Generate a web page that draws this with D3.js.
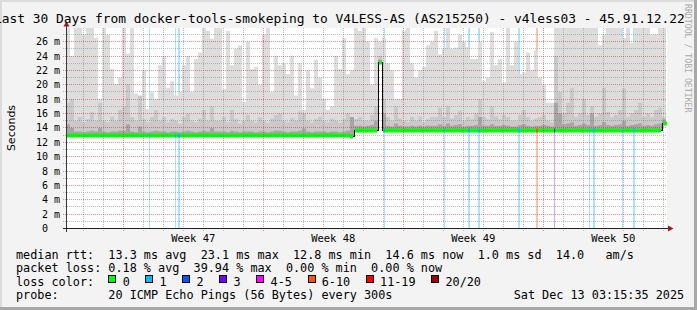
<!DOCTYPE html>
<html><head><meta charset="utf-8">
<script src="https://cdn.jsdelivr.net/npm/d3@7"></script>
<style>
body{margin:0;background:#f3f3f3;overflow:hidden}
svg{display:block}
text{font-family:"DejaVu Sans Mono",monospace;fill:#000}
</style>
</head><body>
<svg id="c" width="697" height="310"></svg>
<script>
// ---------- DATA ----------
const startTime = new Date(Date.UTC(2025,10,13,3,15,35));
const endTime   = new Date(Date.UTC(2025,11,13,3,15,35));
const binHours = 4.8; // each value covers 4.8 h (150 bins over 30 days)

// top of the outer smoke (max ping), ms (values above the axis top are clipped)
const smokeMax = [
30,24,30,30,27,30,30,26.5,18,30, 27,22.2,20.1,21,30,24.3,30,18.8,18.2,22,
16.6,19,18,22.7,24,19.6,20.5,18.5,19,22.7, 24,19,23.6,24.5,30,27.5,26.4,30,30,19.4,
27.5,22.7,25,25.5,17.6,26,22.2,22.5,20,27, 28,19,24,22.7,23,21.5,24,18.5,23,16.5,
22,19.5,23.5,21,18,16.5,17,24,22.2,26.5, 21.5,22,30,27.5,30,26,20,26.5,26,26.5,
23,22,18,18,27.5,28,23,21,22,22.5, 25.5,26,27.5,24.2,25,30,25,25.2,27,26,
25.3,23.6,23.6,26,20.5,21,27.3,22.7,23.6,20.3, 30,22.7,26,21.5,21.7,24.5,22,24.8,21,20,
17.5,17.5,30,30,30,30,30,30,30,30, 30,30,30,25.5,27,30,30,30,30,26.5,
30,25.8,30,30,30,30,27,27,30,30];

// top of the middle smoke band, ms
const smokeMid = [
17.5,18,15,15.5,14.8,15.2,16.2,15,17.5,15, 14.8,15.6,15,16.5,17,20,15.5,15,18.5,15.2,
14.8,15.5,16.5,15,15.5,14.8,15.2,15,14.6,15.5, 16,15,14.8,15.3,16.5,15,17,15,15,15.5,
14.8,16.5,15.2,14.6,15,15.8,15,14.8,15.5,15, 14.7,15.3,15.8,16,15,14.8,15.4,15,16.3,16,
15,14.8,15.2,15.6,15,14.8,15.3,15,14.7,15.2, 16,14.6,15.2,15.5,15,15,15.8,17,24,18,
15.5,15,17,15.3,15,14.8,15.5,15,15.6,14.8, 15.2,15.5,15.5,16.8,15.5,17,15.3,15.8,16.4,15,
15.5,15.2,16,18,15.5,15.2,17,15.6,15.2,15.8, 15.5,15,15,15.8,16.5,15.5,15,15.3,15.5,15.8,
15,14.8,24,19,16,17.5,19.5,15.5,16,18, 15.8,17,15.5,16,19.6,16.2,15.5,15.8,16.5,19.5,
15.5,16,16.5,17.5,15.5,16,15.5,16.5,16.8,15.5];

// top of the dark inner smoke band, ms
const smokeDark = [
14.5,14,13.5,13.5,13.4,13.5,13.6,13.5,14,13.5, 13.4,13.5,13.5,13.6,13.6,14.5,13.5,13.4,14.2,13.5,
13.4,13.5,13.6,13.5,13.5,13.4,13.5,13.5,13.4,13.5, 13.6,13.5,13.4,13.5,13.6,13.5,14,13.5,13.5,13.5,
13.4,13.6,13.5,13.4,13.5,13.5,13.5,13.4,13.5,13.5, 13.4,13.5,13.6,13.6,13.5,13.4,13.5,13.5,13.6,13.9,
13.5,13.4,13.5,13.5,13.5,13.4,13.5,13.5,13.4,13.5, 13.6,15.5,14.3,14.3,14.2,14.3,14.4,15,23.5,16,
14.3,14.2,14.6,14.3,14.2,14.2,14.3,14.2,14.3,14.2, 14.3,14.3,14.3,14.5,14.3,14.6,14.3,14.4,14.5,14.2,
14.3,14.3,14.4,15.5,14.3,14.3,14.5,14.3,14.3,14.4, 14.3,14.2,14.2,14.4,14.5,14.3,14.2,14.3,14.3,14.4,
14.3,14.2,17.5,16,14.5,14.6,14.8,14.3,14.4,14.6, 14.4,16,14.3,14.4,14.8,14.4,14.3,14.4,14.5,15,
14.3,14.4,14.5,14.6,14.3,14.4,14.3,14.5,14.6,15.2];

// median rtt, ms
const medianRtt = [
12.9,12.9,12.9,12.9,12.9,12.9,12.9,12.9,12.9,12.9, 12.9,12.9,12.9,12.9,12.9,12.9,12.9,12.9,12.9,12.9,
12.9,12.9,12.9,12.9,12.9,12.9,12.9,12.9,12.9,12.9, 12.9,12.9,12.9,12.9,12.9,12.9,12.9,12.9,12.9,12.9,
12.9,12.9,12.9,12.9,12.9,12.9,12.9,12.9,12.9,12.9, 12.9,12.9,12.9,12.9,12.9,12.9,12.9,12.9,12.9,12.9,
12.9,12.9,12.9,12.9,12.9,12.9,12.9,12.9,12.9,12.9, 12.9,12.8,13.7,13.7,13.7,13.7,13.7,13.7,23.1,13.7,
13.7,13.7,13.7,13.7,13.7,13.7,13.7,13.7,13.7,13.7, 13.7,13.7,13.7,13.7,13.7,13.7,13.7,13.7,13.7,13.7,
13.7,13.7,13.7,13.7,13.7,13.7,13.7,13.7,13.7,13.7, 13.7,13.7,13.7,13.7,13.7,13.7,13.7,13.7,13.7,13.7,
13.7,13.7,13.7,13.7,13.7,13.7,13.7,13.7,13.7,13.7, 13.7,13.7,13.7,13.7,13.7,13.7,13.7,13.7,13.7,13.7,
13.7,13.7,13.7,13.7,13.7,13.7,13.7,13.7,13.7,14.6];

// loss events: time, number of lost pings (of 20), duration in rrd steps (72 min)
const lossTimes = ["2025-11-17T08:03Z","2025-11-18T15:15Z","2025-11-18T18:51Z","2025-11-29T02:03Z",
  "2025-12-02T02:03Z","2025-12-03T06:51Z","2025-12-03T18:51Z","2025-12-05T18:51Z","2025-12-06T15:51Z",
  "2025-12-07T14:03Z","2025-12-09T08:03Z","2025-12-09T12:51Z","2025-12-10T23:39Z","2025-12-11T12:51Z"];
const lossCounts = [1,1,1,1,1,1,1,1,8,3,1,1,1,1];
const lossSteps  = [1,1,2,1,1,2,2,2,2,1,1,2,1,2];

const lossLabels = ["0","1","2","3","4-5","6-10","11-19","20/20"];
const lossColors = ["#00ff00","#00bbff","#0055ff","#7700ff","#ff00ff","#ff5500","#ff0000","#a00000"];
const lossMaxOf  = [0,1,2,3,5,10,19,20];

const yTicks = [0,2,4,6,8,10,12,14,16,18,20,22,24,26];
const weekStarts = ["2025-11-16","2025-11-23","2025-11-30","2025-12-07"];
const weekLabels = ["Week 47","Week 48","Week 49","Week 50"];

const titleText = "Last 30 Days from docker-tools-smokeping to V4LESS-AS (AS215250) - v4less03 - 45.91.12.22";
const legendRtt  = "median rtt:  13.3 ms avg  23.1 ms max  12.8 ms min  14.6 ms now  1.0 ms sd  14.0   am/s";
const legendLoss = "packet loss: 0.18 % avg  39.94 % max  0.00 % min  0.00 % now";
const legendProbe = "probe:       20 ICMP Echo Pings (56 Bytes) every 300s";
const legendDate = "Sat Dec 13 03:15:35 2025";

// ---------- DRAW ----------
const svg = d3.select("#c");
const X0 = 66, X1 = 666, YT = 28, YB = 228.5;
const x = d3.scaleUtc().domain([startTime, endTime]).range([X0, X1]);
const y = d3.scaleLinear().domain([0, 27.9]).range([YB, YT]);
const binTime = i => new Date(startTime.getTime() + i * binHours * 3600e3);
const lossIdx = n => lossMaxOf.findIndex(m => n <= m);

// background and frame
svg.append("rect").attr("width",697).attr("height",310).attr("fill","#f3f3f3");
svg.append("rect").attr("width",697).attr("height",2).attr("fill","#dcdcdc");
svg.append("rect").attr("width",2).attr("height",310).attr("fill","#dcdcdc");
svg.append("rect").attr("x",694).attr("width",3).attr("height",310).attr("fill","#a8a8a8");
svg.append("rect").attr("y",307).attr("width",697).attr("height",3).attr("fill","#a8a8a8");

// canvas
svg.append("rect").attr("x",X0).attr("y",YT).attr("width",X1-X0+1).attr("height",YB-YT).attr("fill","#fff");

svg.append("clipPath").attr("id","plot").append("rect")
  .attr("x",X0+1).attr("y",YT).attr("width",X1-X0).attr("height",YB-YT);
const plot = svg.append("g").attr("clip-path","url(#plot)");

// loss background lines
lossTimes.forEach((t,i) => {
  const li = lossIdx(lossCounts[i]);
  plot.append("rect")
    .attr("x", Math.floor(x(new Date(t)))).attr("y", YT)
    .attr("width", lossSteps[i]).attr("height", YB-YT)
    .attr("fill", lossColors[li]).attr("opacity", 0.35);
});

// smoke
const pts = medianRtt.map((m,i) => ({t: binTime(i), m, mx: smokeMax[i], md: smokeMid[i], dk: smokeDark[i]}));
pts.push(Object.assign({}, pts[pts.length-1], {t: endTime}));
const area = key => d3.area().curve(d3.curveStepAfter)
  .x(d => x(d.t)).y0(d => y(d.m)).y1(d => y(d[key]));
plot.append("path").datum(pts).attr("d", area("mx")).attr("fill","#dddddd");
plot.append("path").datum(pts).attr("d", area("md")).attr("fill","#c9c9c9");
plot.append("path").datum(pts).attr("d", area("dk")).attr("fill","#a6a6a6");

// grid
const grid = svg.append("g").attr("shape-rendering","crispEdges").attr("stroke-dasharray","1,1");
d3.utcDay.range(d3.utcDay.ceil(startTime), endTime).forEach(d => {
  const major = d.getUTCDay() === 0;
  const gx = Math.floor(x(d)) + 0.5;
  grid.append("line").attr("x1",gx).attr("x2",gx).attr("y1",YT).attr("y2",YB+3.5)
    .attr("stroke", major ? "rgba(205,35,35,0.5)" : "rgba(125,125,125,0.5)");
});
for (let v = 1; v <= 27; v++) {
  const gy = Math.floor(y(v)) + 0.5;
  grid.append("line").attr("x1",63).attr("x2",X1).attr("y1",gy).attr("y2",gy)
    .attr("stroke", v % 2 === 0 ? "rgba(205,35,35,0.5)" : "rgba(125,125,125,0.5)");
}

// median: black step line, then coloured segments
plot.append("path").datum(pts)
  .attr("d", d3.line().curve(d3.curveStepAfter).x(d => x(d.t)).y(d => Math.floor(y(d.m))+0.5))
  .attr("fill","none").attr("stroke","#000").attr("stroke-width",1).attr("shape-rendering","crispEdges");
medianRtt.forEach((m,i) => {
  const x0 = x(binTime(i)), x1 = x(binTime(i+1));
  const my = Math.floor(y(m));
  const jumpL = i > 0 && Math.abs(medianRtt[i-1] - m) > 0.3;
  const jumpR = i < medianRtt.length-1 && Math.abs(medianRtt[i+1] - m) > 0.3;
  plot.append("rect").attr("x", x0 + (jumpL ? 1 : 0)).attr("y", my-1.5)
    .attr("width", x1-x0 - (jumpR ? 1 : 0)).attr("height",4)
    .attr("fill", lossColors[0]);
});
lossTimes.forEach((t,i) => {
  const tt = new Date(t);
  const bi = Math.min(medianRtt.length-1, Math.floor((tt - startTime) / (binHours*3600e3)));
  plot.append("rect").attr("x", Math.floor(x(tt))).attr("y", Math.floor(y(medianRtt[bi]))-1.5)
    .attr("width", lossSteps[i]).attr("height", 4).attr("fill", lossColors[lossIdx(lossCounts[i])]);
});

// axes
const ax = svg.append("g").attr("shape-rendering","crispEdges");
ax.append("line").attr("x1",66.5).attr("x2",66.5).attr("y1",231.5).attr("y2",25).attr("stroke","#3a3a3a");
ax.append("line").attr("x1",63).attr("x2",669).attr("y1",228.5).attr("y2",228.5).attr("stroke","#222");
svg.append("path").attr("d","M63.5,26.5L69.5,26.5L66.5,21Z").attr("fill","#9b1b1b");
svg.append("path").attr("d","M668,225.5L668,231.5L673.5,228.5Z").attr("fill","#9b1b1b");

// y tick labels
yTicks.forEach(v => {
  const ty = y(v) + 3.6;
  svg.append("text").attr("x",48).attr("y",ty).attr("text-anchor","end").attr("font-size","10px").text(v);
  if (v !== 0) svg.append("text").attr("x",54).attr("y",ty).attr("font-size","10px").text("m");
});
// y title
svg.append("text").attr("transform","translate(15,128) rotate(-90)").attr("text-anchor","middle")
  .style("font-family","'DejaVu Sans',sans-serif").attr("font-size","11px").text("Seconds");

// week labels
weekStarts.forEach((s,i) => {
  const mid = new Date(new Date(s + "T00:00Z").getTime() + 3.5*86400e3);
  svg.append("text").attr("x", x(mid)).attr("y",241.7).attr("text-anchor","middle")
    .attr("font-size","10.5px").text(weekLabels[i]);
});

// title (as in the reference, wider than the image and centred, so both ends are cut)
svg.append("text").attr("x",-6).attr("y",23).attr("font-size","12.9px").style("white-space","pre").text(titleText);

// watermark
svg.append("text").attr("transform","translate(685,4) rotate(90)").attr("font-size","8.2px")
  .style("fill","#aaaaaa").text("RRDTOOL / TOBI OETIKER");

// legend
const CW = 7.11, LX = 16, LF = "11.8px";
const lt = (c, yy, s) => svg.append("text").attr("x", LX + c*CW).attr("y", yy)
  .attr("font-size", LF).style("white-space","pre").text(s);
lt(0, 258.5, legendRtt);
lt(0, 272, legendLoss);
lt(0, 285.5, "loss color:");
let cur = 13;
lossLabels.forEach((lab,i) => {
  const sx = Math.round(LX + cur*CW) + 0.5;
  svg.append("rect").attr("x", sx).attr("y", 275.5).attr("width",7).attr("height",7)
    .attr("fill", lossColors[i]).attr("stroke","#000").attr("shape-rendering","crispEdges");
  lt(cur + 2, 285.5, lab);
  cur += lab.length + 4.2;
});
lt(0, 299, legendProbe);
lt(70, 299, legendDate);
</script>
</body></html>
